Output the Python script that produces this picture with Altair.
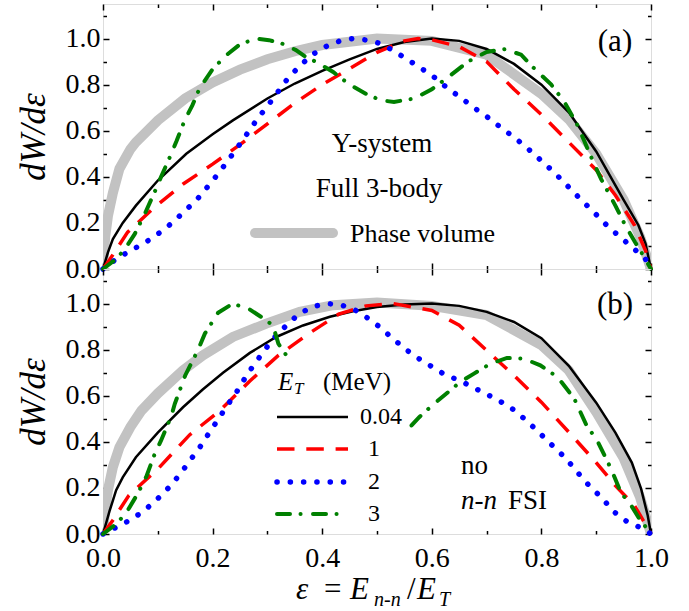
import altair as alt
import pandas as pd

# ---------------- data ----------------
# panel (a): Full 3-body
gray_a_x = [0, 0.004, 0.009, 0.018, 0.03, 0.05, 0.06, 0.1, 0.15, 0.2, 0.25, 0.3, 0.35, 0.4, 0.5, 0.6, 0.7, 0.8, 0.85, 0.9, 0.95, 0.98, 1.0]
gray_a_y = [0, 0.14, 0.23, 0.33, 0.435, 0.52, 0.55, 0.645, 0.74, 0.81, 0.865, 0.91, 0.945, 0.972, 1.0, 0.99, 0.93, 0.76, 0.65, 0.5, 0.3, 0.14, 0]

black_a_x = [0, 0.009, 0.018, 0.036, 0.06, 0.1, 0.152, 0.2, 0.237, 0.3, 0.35, 0.4, 0.45, 0.5, 0.55, 0.6, 0.65, 0.7, 0.75, 0.8, 0.85, 0.9, 0.95, 0.977, 0.99, 1.0]
black_a_y = [0, 0.072, 0.13, 0.2, 0.275, 0.384, 0.50, 0.585, 0.645, 0.74, 0.805, 0.86, 0.91, 0.955, 0.985, 1.0, 0.99, 0.955, 0.89, 0.8, 0.68, 0.51, 0.3, 0.19, 0.11, 0]

red_a_x = [0, 0.012, 0.045, 0.095, 0.147, 0.2, 0.25, 0.3, 0.35, 0.4, 0.45, 0.5, 0.55, 0.575, 0.6, 0.65, 0.7, 0.75, 0.8, 0.85, 0.9, 0.935, 0.97, 0.99, 1.0]
red_a_y = [0, 0.04, 0.16, 0.27, 0.37, 0.455, 0.54, 0.63, 0.72, 0.8, 0.87, 0.94, 0.99, 1.0, 0.995, 0.965, 0.9, 0.78, 0.67, 0.55, 0.43, 0.32, 0.19, 0.08, 0]

blue_a_x = [0, 0.024, 0.05, 0.074, 0.098, 0.123, 0.147, 0.172, 0.192, 0.212, 0.23, 0.248, 0.265, 0.282, 0.301, 0.319, 0.337, 0.36, 0.385, 0.41, 0.433, 0.456, 0.483, 0.507, 0.531, 0.555, 0.58, 0.604, 0.628, 0.652, 0.677, 0.701, 0.725, 0.75, 0.774, 0.798, 0.823, 0.847, 0.871, 0.896, 0.92, 0.944, 0.968, 0.99, 1.0]
blue_a_y = [0, 0.043, 0.08, 0.11, 0.148, 0.194, 0.246, 0.303, 0.36, 0.419, 0.477, 0.536, 0.594, 0.652, 0.71, 0.768, 0.826, 0.884, 0.935, 0.97, 0.99, 1.0, 0.993, 0.978, 0.946, 0.91, 0.872, 0.833, 0.786, 0.745, 0.70, 0.66, 0.616, 0.572, 0.525, 0.474, 0.42, 0.362, 0.304, 0.246, 0.188, 0.138, 0.09, 0.043, 0]

green_a_x = [0, 0.024, 0.04, 0.058, 0.077, 0.094, 0.106, 0.122, 0.134, 0.149, 0.163, 0.176, 0.2, 0.225, 0.25, 0.279, 0.303, 0.327, 0.352, 0.37, 0.388, 0.42, 0.45, 0.48, 0.507, 0.531, 0.568, 0.6, 0.63, 0.666, 0.7, 0.733, 0.763, 0.787, 0.818, 0.842, 0.866, 0.89, 0.909, 0.935, 0.953, 0.971, 0.986, 1.0]
green_a_y = [0, 0.043, 0.087, 0.152, 0.243, 0.333, 0.40, 0.486, 0.554, 0.645, 0.71, 0.783, 0.867, 0.928, 0.975, 1.0, 0.993, 0.978, 0.95, 0.92, 0.90, 0.855, 0.80, 0.76, 0.732, 0.725, 0.74, 0.78, 0.833, 0.90, 0.942, 0.954, 0.93, 0.87, 0.80, 0.725, 0.623, 0.49, 0.39, 0.275, 0.19, 0.116, 0.058, 0]

# panel (b): no n-n FSI
gray_b_x = [0, 0.004, 0.009, 0.018, 0.03, 0.05, 0.07, 0.1, 0.146, 0.182, 0.237, 0.298, 0.359, 0.42, 0.5, 0.6, 0.7, 0.8, 0.85, 0.9, 0.95, 0.98, 1.0]
gray_b_y = [0, 0.11, 0.19, 0.29, 0.377, 0.464, 0.535, 0.61, 0.71, 0.775, 0.855, 0.913, 0.964, 0.993, 1.005, 0.99, 0.95, 0.82, 0.71, 0.53, 0.33, 0.16, 0]

black_b_x = [0, 0.006, 0.012, 0.024, 0.036, 0.06, 0.1, 0.146, 0.182, 0.219, 0.268, 0.316, 0.365, 0.414, 0.456, 0.5, 0.55, 0.6, 0.65, 0.7, 0.75, 0.8, 0.85, 0.9, 0.935, 0.965, 0.982, 0.994, 1.0]
black_b_y = [0, 0.05, 0.10, 0.19, 0.246, 0.333, 0.44, 0.55, 0.627, 0.70, 0.786, 0.855, 0.905, 0.943, 0.967, 0.985, 0.996, 1.0, 0.99, 0.964, 0.92, 0.85, 0.73, 0.57, 0.44, 0.31, 0.196, 0.08, 0]

red_b_x = [0, 0.018, 0.047, 0.102, 0.158, 0.213, 0.268, 0.32, 0.377, 0.43, 0.48, 0.53, 0.6, 0.65, 0.7, 0.75, 0.8, 0.85, 0.9, 0.935, 0.97, 1.0]
red_b_y = [0, 0.06, 0.167, 0.287, 0.43, 0.535, 0.664, 0.775, 0.872, 0.954, 0.99, 1.0, 0.97, 0.906, 0.797, 0.688, 0.572, 0.442, 0.31, 0.21, 0.123, 0]

blue_b_x = [0, 0.024, 0.05, 0.074, 0.098, 0.122, 0.142, 0.16, 0.178, 0.194, 0.21, 0.226, 0.243, 0.258, 0.274, 0.292, 0.31, 0.334, 0.357, 0.382, 0.407, 0.431, 0.456, 0.48, 0.504, 0.528, 0.553, 0.577, 0.601, 0.625, 0.65, 0.674, 0.698, 0.722, 0.747, 0.771, 0.795, 0.82, 0.844, 0.865, 0.886, 0.911, 0.932, 0.956, 0.983, 1.0]
blue_b_y = [0, 0.029, 0.061, 0.099, 0.149, 0.206, 0.264, 0.323, 0.381, 0.44, 0.497, 0.555, 0.613, 0.672, 0.73, 0.788, 0.846, 0.904, 0.954, 0.986, 1.0, 0.996, 0.978, 0.942, 0.90, 0.85, 0.80, 0.76, 0.725, 0.69, 0.667, 0.638, 0.609, 0.58, 0.543, 0.496, 0.442, 0.384, 0.33, 0.27, 0.213, 0.155, 0.097, 0.054, 0.025, 0]

# green (b) is hidden behind the legend between the two visible pieces
green_b1_x = [0, 0.024, 0.043, 0.064, 0.079, 0.094, 0.106, 0.125, 0.131, 0.15, 0.173, 0.186, 0.21, 0.237, 0.268, 0.29, 0.31, 0.32, 0.343]
green_b1_y = [0, 0.043, 0.094, 0.178, 0.249, 0.345, 0.406, 0.514, 0.565, 0.688, 0.797, 0.87, 0.96, 1.0, 0.974, 0.94, 0.906, 0.826, 0.746]
green_b2_x = [0.563, 0.577, 0.604, 0.63, 0.652, 0.677, 0.707, 0.737, 0.768, 0.798, 0.83, 0.86, 0.881, 0.903, 0.927, 0.945, 0.964, 0.979, 0.994, 1.0]
green_b2_y = [0.471, 0.507, 0.565, 0.616, 0.66, 0.696, 0.739, 0.764, 0.761, 0.732, 0.68, 0.587, 0.478, 0.40, 0.283, 0.18, 0.123, 0.065, 0.02, 0]

series_labels = ["0.04", "1", "2", "3"]
series_colors = ["#000000", "#ff0000", "#0000ff", "#008000"]

x_major = [0, 0.2, 0.4, 0.6, 0.8, 1.0]
x_minor = [0.1, 0.3, 0.5, 0.7, 0.9]
y_major = [0, 0.2, 0.4, 0.6, 0.8, 1.0]
y_minor = [0.1, 0.3, 0.5, 0.7, 0.9, 1.1]

# ---------------- styling ----------------
FONT = "Liberation Serif"
W, H = 548, 265
GRAY = "#c2c2c2"
STYLES = [
    dict(color=series_colors[0], strokeWidth=2.5),
    dict(color=series_colors[1], strokeWidth=3.5, strokeDash=[17.5, 11.8]),
    dict(color=series_colors[2], strokeWidth=5.5, strokeDash=[0.1, 13.2], strokeCap="round"),
    dict(color=series_colors[3], strokeWidth=4, strokeDash=[13, 10.5, 0.1, 12.4], strokeCap="round"),
]

xscale = alt.Scale(domain=[0, 1], nice=False, zero=False)
yscale = alt.Scale(domain=[0, 1.15], nice=False, zero=False)
ONE = pd.DataFrame({"k": [0]})


def frame(xs, ys, seg=0):
    return pd.DataFrame({"x": xs, "y": ys, "seg": [seg] * len(xs)})


def ax(orient, values, size, labels=False, title=None, **kw):
    return alt.Axis(orient=orient, values=values, tickSize=size, offset=-size,
                    domain=False, grid=False, labels=labels, tickColor="black",
                    tickWidth=1.5, title=title, **kw)


def txt(s, x, y, size=27, italic=False, align="left", baseline="alphabetic"):
    return alt.Chart(ONE).mark_text(
        text=s, font=FONT, fontSize=size,
        fontStyle="italic" if italic else "normal",
        align=align, baseline=baseline, color="black",
    ).encode(x=alt.value(x), y=alt.value(y))


def seg_rule(x1, x2, y, **style):
    return alt.Chart(ONE).mark_rule(**style).encode(
        x=alt.value(x1), x2=alt.value(x2), y=alt.value(y))


def panel(gray, black, red, blue, green, xlabels, extras):
    ytitle = "dW/dε"
    lab = dict(labelFont=FONT, labelFontSize=28, labelColor="black", format=".1f",
               labelFlush=False, labelOverlap=False)
    layers = [
        alt.Chart(gray).mark_line(color=GRAY, strokeWidth=10, strokeCap="round", clip=True).encode(
            x=alt.X("x:Q", scale=xscale,
                    axis=ax("bottom", x_major, 6, labels=xlabels, labelPadding=10, **lab)),
            y=alt.Y("y:Q", scale=yscale,
                    axis=ax("left", y_major, 6, labels=True, labelPadding=3,
                            title=ytitle, titleFont=FONT, titleFontSize=35,
                            titleFontStyle="italic", titleFontWeight="normal",
                            titleColor="black", titlePadding=14, **lab)),
        ),
        alt.Chart(black).mark_line(**STYLES[0]).encode(
            x=alt.X("x:Q", scale=xscale, axis=ax("bottom", x_minor, 3.5)),
            y=alt.Y("y:Q", scale=yscale, axis=ax("left", y_minor, 3.5)),
        ),
        alt.Chart(red).mark_line(**STYLES[1]).encode(
            x=alt.X("x:Q", scale=xscale, axis=ax("top", x_major, 6)),
            y=alt.Y("y:Q", scale=yscale, axis=ax("right", y_major, 6)),
        ),
        alt.Chart(blue).mark_line(**STYLES[2]).encode(
            x=alt.X("x:Q", scale=xscale, axis=ax("top", x_minor, 3.5)),
            y=alt.Y("y:Q", scale=yscale, axis=ax("right", y_minor, 3.5)),
        ),
        alt.Chart(green).mark_line(**STYLES[3]).encode(
            x=alt.X("x:Q", scale=xscale, axis=None),
            y=alt.Y("y:Q", scale=yscale, axis=None),
            detail="seg:N",
        ),
    ] + extras
    return alt.layer(*layers).resolve_axis(x="independent", y="independent").properties(width=W, height=H)


# ---------------- panel (a) ----------------
extras_a = [
    txt("(a)", 512, 38, size=31, align="center", baseline="middle"),
    txt("Y-system", 279, 148, size=27, align="center"),
    txt("Full 3-body", 276, 193, size=27, align="center"),
    seg_rule(152, 230, 229, color=GRAY, strokeWidth=10, strokeCap="round"),
    txt("Phase volume", 247, 238, size=26),
]
top = panel(frame(gray_a_x, gray_a_y), frame(black_a_x, black_a_y), frame(red_a_x, red_a_y),
            frame(blue_a_x, blue_a_y), frame(green_a_x, green_a_y), False, extras_a)

# ---------------- panel (b) ----------------
green_b = pd.concat([frame(green_b1_x, green_b1_y, 0), frame(green_b2_x, green_b2_y, 1)], ignore_index=True)
leg_rows = [148, 180, 213, 245]
leg_label_x = [257, 265, 265, 265]
extras_b = [
    txt("(b)", 512, 36, size=31, align="center", baseline="middle"),
    txt("no", 358, 205, size=27),
    txt("n-n", 358, 240, size=27, italic=True),
    txt("FSI", 405, 240, size=27),
    # legend title  E_T (MeV)
    txt("E", 175, 121, size=25, italic=True),
    txt("T", 191, 125, size=17, italic=True),
    txt("(MeV)", 220, 121, size=25),
]
for i, lbl in enumerate(series_labels):
    extras_b.append(seg_rule(174, 245, leg_rows[i], **STYLES[i]))
    extras_b.append(txt(lbl, leg_label_x[i], leg_rows[i], size=24, baseline="middle"))
# x-axis title  ε = E_{n-n} / E_T
TB = 330
extras_b += [
    txt("ε", 193, TB, size=31, italic=True),
    txt("=", 221, TB, size=31),
    txt("E", 247, TB, size=31, italic=True),
    txt("n-n", 271, TB + 7, size=20, italic=True),
    txt("/", 304, TB, size=31),
    txt("E", 314, TB, size=31, italic=True),
    txt("T", 336, TB + 7, size=20, italic=True),
]
bottom = panel(frame(gray_b_x, gray_b_y), frame(black_b_x, black_b_y), frame(red_b_x, red_b_y),
               frame(blue_b_x, blue_b_y), green_b, True, extras_b)

chart = alt.vconcat(top, bottom, spacing=0, bounds="flush").properties(
    padding={"left": 15, "top": 2, "right": 5, "bottom": 5}
).configure_view(stroke="black", strokeWidth=2).configure(background="white")

chart.save("out.html", embed_options={"renderer": "svg", "actions": False})
